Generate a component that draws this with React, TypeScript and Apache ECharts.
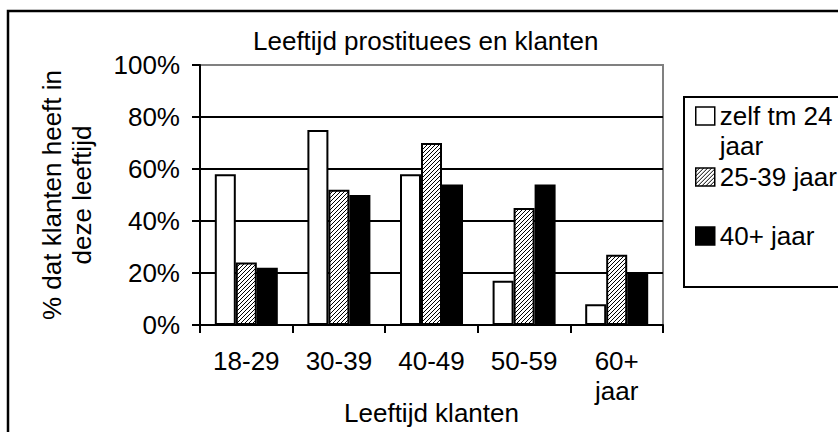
import React, { useEffect, useRef } from "react";
import * as echarts from "echarts";

const categories = ["18-29", "30-39", "40-49", "50-59", "60+ jaar"];
const seriesNames = ["zelf tm 24 jaar", "25-39 jaar", "40+ jaar"];
const zelfTm24 = [58, 75, 58, 17, 8];
const jaar25tot39 = [24, 52, 70, 45, 27];
const jaar40plus = [22, 50, 54, 54, 20];
const titleText = "Leeftijd prostituees en klanten";
const xAxisTitle = "Leeftijd klanten";
const yAxisTitle = "% dat klanten heeft in\ndeze leeftijd";

const FONT = "'Liberation Sans', Arial, sans-serif";

function makeHatch(): HTMLCanvasElement {
  const c = document.createElement("canvas");
  c.width = 4;
  c.height = 4;
  const ctx = c.getContext("2d")!;
  ctx.fillStyle = "#fff";
  ctx.fillRect(0, 0, 4, 4);
  ctx.fillStyle = "#000";
  for (let i = 0; i < 4; i++) ctx.fillRect(i, 3 - i, 1, 1);
  return c;
}

export default function App() {
  const ref = useRef<HTMLDivElement>(null);
  useEffect(() => {
    if (!ref.current) return;
    const chart = echarts.init(ref.current, null, { renderer: "svg" });
    const hatch = { image: makeHatch(), repeat: "repeat" } as any;
    const textBase = { fontFamily: FONT, fontSize: 26, color: "#000" };
    const barBase = { borderColor: "#000", borderWidth: 2 };
    const legendBase = {
      orient: "vertical",
      padding: 0,
      itemWidth: 19,
      itemHeight: 18,
      icon: "rect",
      selectedMode: false,
      itemStyle: { borderColor: "#000", borderWidth: 1.5 },
      textStyle: { ...textBase, lineHeight: 30 },
    };
    chart.setOption({
      animation: false,
      backgroundColor: "#fff",
      title: {
        text: titleText,
        left: 253,
        top: 26,
        padding: 0,
        textStyle: { ...textBase, fontWeight: "normal", lineHeight: 30 },
      },
      grid: {
        left: 200,
        top: 65,
        width: 463,
        height: 260,
        show: true,
        borderColor: "#808080",
        borderWidth: 2,
        backgroundColor: "#fff",
        containLabel: false,
        outerBoundsMode: "none",
      },
      legend: [
        { ...legendBase, left: 695, top: 71, data: [seriesNames[0]], formatter: () => "\nzelf tm 24\njaar" },
        { ...legendBase, left: 695, top: 162, data: [seriesNames[1]] },
        { ...legendBase, left: 695, top: 221, data: [seriesNames[2]] },
      ],
      xAxis: {
        type: "category",
        data: categories,
        boundaryGap: true,
        name: xAxisTitle,
        nameLocation: "middle",
        nameGap: 73,
        nameMoveOverlap: false,
        nameTextStyle: { ...textBase, lineHeight: 30 },
        axisLine: { show: true, lineStyle: { color: "#000", width: 2 } },
        axisTick: { show: true, alignWithLabel: false, length: 8, lineStyle: { color: "#000", width: 2 } },
        axisLabel: {
          ...textBase,
          lineHeight: 30,
          margin: 21,
          interval: 0,
          formatter: (v: string) => v.replace(" ", "\n"),
        },
        splitLine: { show: false },
      },
      yAxis: {
        type: "value",
        min: 0,
        max: 100,
        interval: 20,
        name: yAxisTitle,
        nameLocation: "middle",
        nameRotate: 90,
        nameGap: 103,
        nameMoveOverlap: false,
        nameTextStyle: { ...textBase, lineHeight: 30, align: "center" },
        axisLine: { show: true, lineStyle: { color: "#000", width: 2 } },
        axisTick: { show: true, length: 8, lineStyle: { color: "#000", width: 2 } },
        axisLabel: { ...textBase, margin: 20, formatter: "{value}%" },
        splitLine: {
          show: true,
          lineStyle: { color: ["#000", "#000", "#000", "#000", "#000", "#808080"], width: 2 },
        },
      },
      series: [
        {
          name: seriesNames[0],
          type: "bar",
          data: zelfTm24,
          barWidth: 21,
          barGap: "0%",
          itemStyle: { ...barBase, color: "#fff" },
        },
        {
          name: seriesNames[1],
          type: "bar",
          data: jaar25tot39,
          barWidth: 21,
          barGap: "0%",
          itemStyle: { ...barBase, color: hatch },
        },
        {
          name: seriesNames[2],
          type: "bar",
          data: jaar40plus,
          barWidth: 21,
          barGap: "0%",
          itemStyle: { ...barBase, color: "#000" },
        },
      ],
      graphic: [
        {
          type: "rect",
          z: -1,
          silent: true,
          shape: { x: 8, y: 11, width: 900, height: 500 },
          style: { fill: "none", stroke: "#000", lineWidth: 2.5 },
        },
        {
          type: "rect",
          silent: true,
          shape: { x: 684, y: 97, width: 200, height: 190 },
          style: { fill: "none", stroke: "#000", lineWidth: 2 },
        },
      ],
    });
    return () => chart.dispose();
  }, []);
  return (
    <div
      ref={ref}
      style={{ position: "fixed", left: 0, top: 0, width: 838, height: 432 }}
    />
  );
}
